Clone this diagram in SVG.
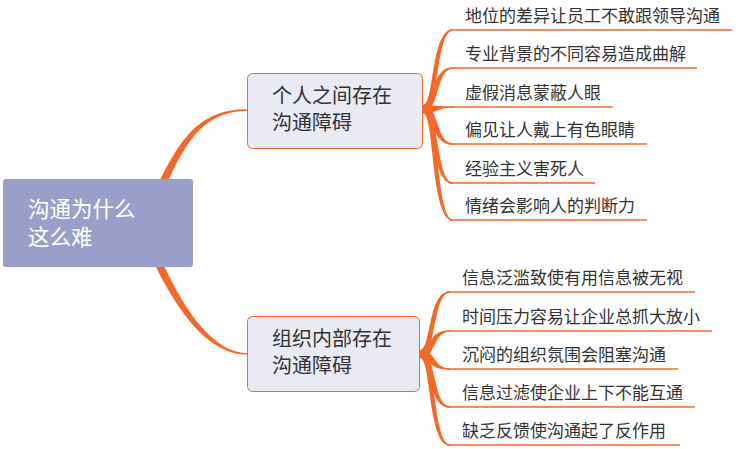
<svg xmlns="http://www.w3.org/2000/svg" width="750" height="449" viewBox="0 0 750 449">
<style>
.br{fill:#f4692a;stroke:none}
.ul{stroke:#f4692a;stroke-width:1.5;fill:none}
.node{fill:#e9eaf3;stroke:#f4692a;stroke-width:1}
.nt{font-family:"Noto Sans CJK SC","Noto Sans",sans-serif;font-size:20px;fill:#333}
.lt{font-family:"Noto Sans CJK SC","Noto Sans",sans-serif;font-size:17px;fill:#333}
.rt{font-family:"Noto Sans CJK SC","Noto Sans",sans-serif;font-size:21.5px;fill:#ffffff}
</style>
<rect width="750" height="449" fill="#ffffff"/>
<g id="connectors">
<path class="br" d="M158.4,183.3 C182.3,133.7 203.4,108.8 248,109.3 L248,110.7 C206.6,111.2 187.7,136.3 165.6,186.7 Z"/>
<path class="br" d="M154.4,263.7 C182.3,321.3 213.5,355.3 248,354.7 L248,353.3 C216.5,352.7 187.7,318.7 161.6,260.3 Z"/>
<path class="br" d="M423,105 C434.5,105 430.5,29.25 453,29.25 L453,30.75 C435.5,30.75 439.5,113 423,113 Z"/>
<path class="br" d="M423,105 C434.5,105 430.5,67.25 453,67.25 L453,68.75 C435.5,68.75 439.5,113 423,113 Z"/>
<path class="br" d="M423,105 C434.5,105 430.5,106.25 453,106.25 L453,107.75 C435.5,107.75 439.5,113 423,113 Z"/>
<path class="br" d="M423,105 C439.5,105 435.5,143.25 453,143.25 L453,144.75 C430.5,144.75 434.5,113 423,113 Z"/>
<path class="br" d="M423,105 C439.5,105 435.5,182.25 453,182.25 L453,183.75 C430.5,183.75 434.5,113 423,113 Z"/>
<path class="br" d="M423,105 C439.5,105 435.5,219.25 453,219.25 L453,220.75 C430.5,220.75 434.5,113 423,113 Z"/>
<path class="br" d="M420,350 C431.5,350 427.5,291.25 450,291.25 L450,292.75 C432.5,292.75 436.5,358 420,358 Z"/>
<path class="br" d="M420,350 C431.5,350 427.5,330.25 450,330.25 L450,331.75 C432.5,331.75 436.5,358 420,358 Z"/>
<path class="br" d="M420,350 C436.5,350 432.5,368.25 450,368.25 L450,369.75 C427.5,369.75 431.5,358 420,358 Z"/>
<path class="br" d="M420,350 C436.5,350 432.5,406.25 450,406.25 L450,407.75 C427.5,407.75 431.5,358 420,358 Z"/>
<path class="br" d="M420,350 C436.5,350 432.5,444.25 450,444.25 L450,445.75 C427.5,445.75 431.5,358 420,358 Z"/>
<line class="ul" x1="450" y1="30" x2="732" y2="30"/>
<line class="ul" x1="450" y1="68" x2="697" y2="68"/>
<line class="ul" x1="450" y1="107" x2="613" y2="107"/>
<line class="ul" x1="450" y1="144" x2="647" y2="144"/>
<line class="ul" x1="450" y1="183" x2="595" y2="183"/>
<line class="ul" x1="450" y1="220" x2="647" y2="220"/>
<line class="ul" x1="447" y1="292" x2="695" y2="292"/>
<line class="ul" x1="447" y1="331" x2="712" y2="331"/>
<line class="ul" x1="447" y1="369" x2="678" y2="369"/>
<line class="ul" x1="447" y1="407" x2="695" y2="407"/>
<line class="ul" x1="447" y1="445" x2="680" y2="445"/>
</g>
<g id="root">
<rect x="3" y="179" width="190" height="88" rx="3" fill="#9a9fc9"/>
<text class="rt" x="28" y="217">沟通为什么</text>
<text class="rt" x="28" y="245">这么难</text>
</g>
<g id="node1">
<rect class="node" x="247.5" y="73.5" width="175" height="75" rx="5"/>
<text class="nt" x="272" y="103">个人之间存在</text>
<text class="nt" x="272" y="130">沟通障碍</text>
</g>
<g id="node2">
<rect class="node" x="247.5" y="316.5" width="172" height="75" rx="5"/>
<text class="nt" x="272" y="346">组织内部存在</text>
<text class="nt" x="272" y="373">沟通障碍</text>
</g>
<g id="leaf1"><text class="lt" x="465" y="22">地位的差异让员工不敢跟领导沟通</text></g>
<g id="leaf2"><text class="lt" x="465" y="60">专业背景的不同容易造成曲解</text></g>
<g id="leaf3"><text class="lt" x="465" y="99">虚假消息蒙蔽人眼</text></g>
<g id="leaf4"><text class="lt" x="465" y="136">偏见让人戴上有色眼睛</text></g>
<g id="leaf5"><text class="lt" x="465" y="175">经验主义害死人</text></g>
<g id="leaf6"><text class="lt" x="465" y="212">情绪会影响人的判断力</text></g>
<g id="leaf7"><text class="lt" x="462" y="284">信息泛滥致使有用信息被无视</text></g>
<g id="leaf8"><text class="lt" x="462" y="323">时间压力容易让企业总抓大放小</text></g>
<g id="leaf9"><text class="lt" x="462" y="361">沉闷的组织氛围会阻塞沟通</text></g>
<g id="leaf10"><text class="lt" x="462" y="399">信息过滤使企业上下不能互通</text></g>
<g id="leaf11"><text class="lt" x="462" y="437">缺乏反馈使沟通起了反作用</text></g>
</svg>
